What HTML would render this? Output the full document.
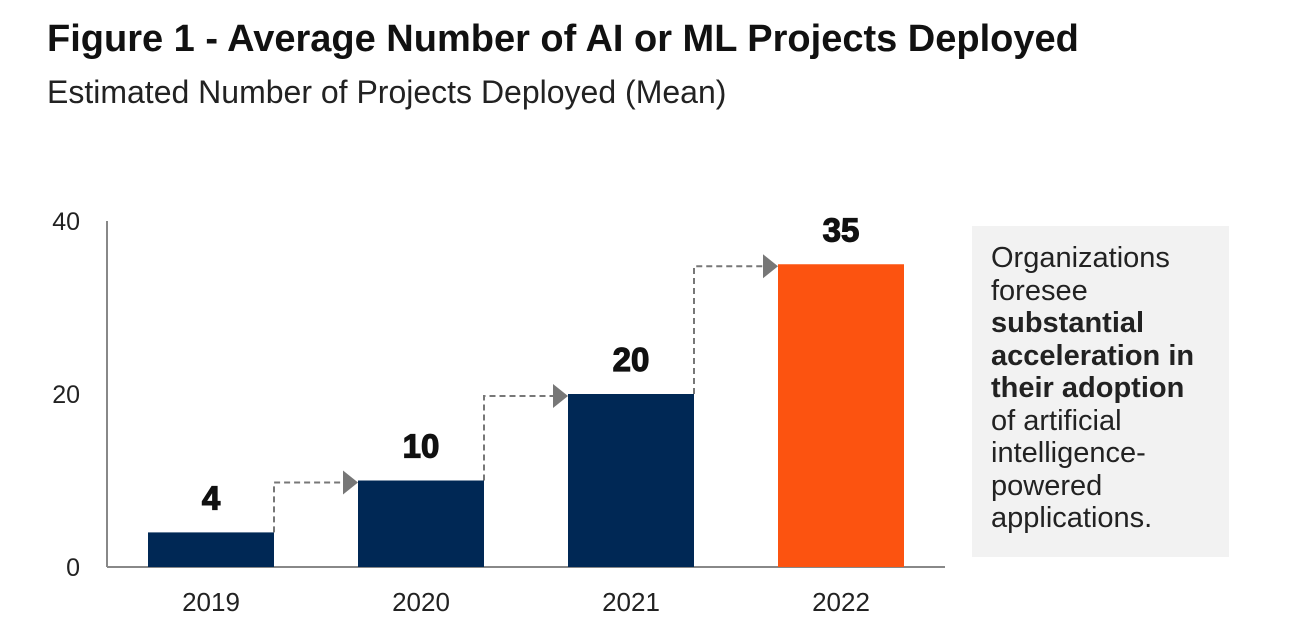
<!DOCTYPE html>
<html><head><meta charset="utf-8"><style>
body{margin:0;width:1300px;height:642px;background:#fff;font-family:"Liberation Sans",sans-serif;overflow:hidden;position:relative}
#title{position:absolute;left:47px;top:18px;font-size:38px;font-weight:bold;color:#111;white-space:nowrap}
#sub{position:absolute;left:47px;top:74px;font-size:32px;color:#222;white-space:nowrap}
#note{position:absolute;left:972px;top:226px;width:257px;height:331px;background:#f2f2f2;box-sizing:border-box;padding:16px 0 0 19px;font-size:29px;line-height:32.5px;color:#222}
</style></head><body>
<div id="title">Figure 1 - Average Number of AI or ML Projects Deployed</div>
<div id="sub">Estimated Number of Projects Deployed (Mean)</div>
<div id="note">Organizations<br>foresee<br><b>substantial<br>acceleration in<br>their adoption</b><br>of artificial<br>intelligence-<br>powered<br>applications.</div>
<svg id="chart" width="1300" height="642" style="position:absolute;left:0;top:0"></svg>
<script>
const categories=["2019","2020","2021","2022"];
const values=[4,10,20,35];
const yTicks=[0,20,40];
const colors=["#002855","#002855","#002855","#fc5310"];
const NS="http://www.w3.org/2000/svg";
const svg=document.getElementById("chart");
const y0=567,y40=221,xAxisL=107,xAxisR=945,bw=126;
const y=v=>y0-(y0-y40)*v/40;
const xc=i=>211+i*210;
function mk(t,a){const e=document.createElementNS(NS,t);for(const k in a)e.setAttribute(k,a[k]);svg.appendChild(e);return e;}
let e=mk("line",{x1:xAxisL,y1:y40,x2:xAxisL,y2:y0,stroke:"#888","stroke-width":2});


e=mk("line",{x1:xAxisL,y1:y0,x2:xAxisR,y2:y0,stroke:"#888","stroke-width":2});


yTicks.forEach(t=>{const tx=mk("text",{x:80,y:y(t)+9,"text-anchor":"end","font-size":25,fill:"#222"});tx.textContent=t;

});
categories.forEach((c,i)=>{
 const x=xc(i)-bw/2;
 const r=mk("rect",{x:x,y:y(values[i]),width:bw,height:y0-y(values[i]),fill:colors[i]});
 
 
 const v=mk("text",{x:xc(i),y:y(values[i])-23,"text-anchor":"middle","font-size":33,"font-weight":"bold",fill:"#111",stroke:"#111","stroke-width":1.2});v.textContent=values[i];
 
 
 const l=mk("text",{x:xc(i),y:611,"text-anchor":"middle","font-size":26,fill:"#222"});l.textContent=c;
 
 
 if(i<categories.length-1){
  const xr=x+bw,ny=y(values[i+1])+2,nx=xc(i+1)-bw/2;
  const p=mk("path",{d:`M${xr},${y(values[i])} L${xr},${ny} L${nx-14},${ny}`,fill:"none",stroke:"#777","stroke-width":2,"stroke-dasharray":"6,4"});
  
  
  const a=mk("polygon",{points:`${nx-15},${ny-12} ${nx},${ny} ${nx-15},${ny+12}`,fill:"#777"});
  
  
 }
});
</script>
</body></html>
